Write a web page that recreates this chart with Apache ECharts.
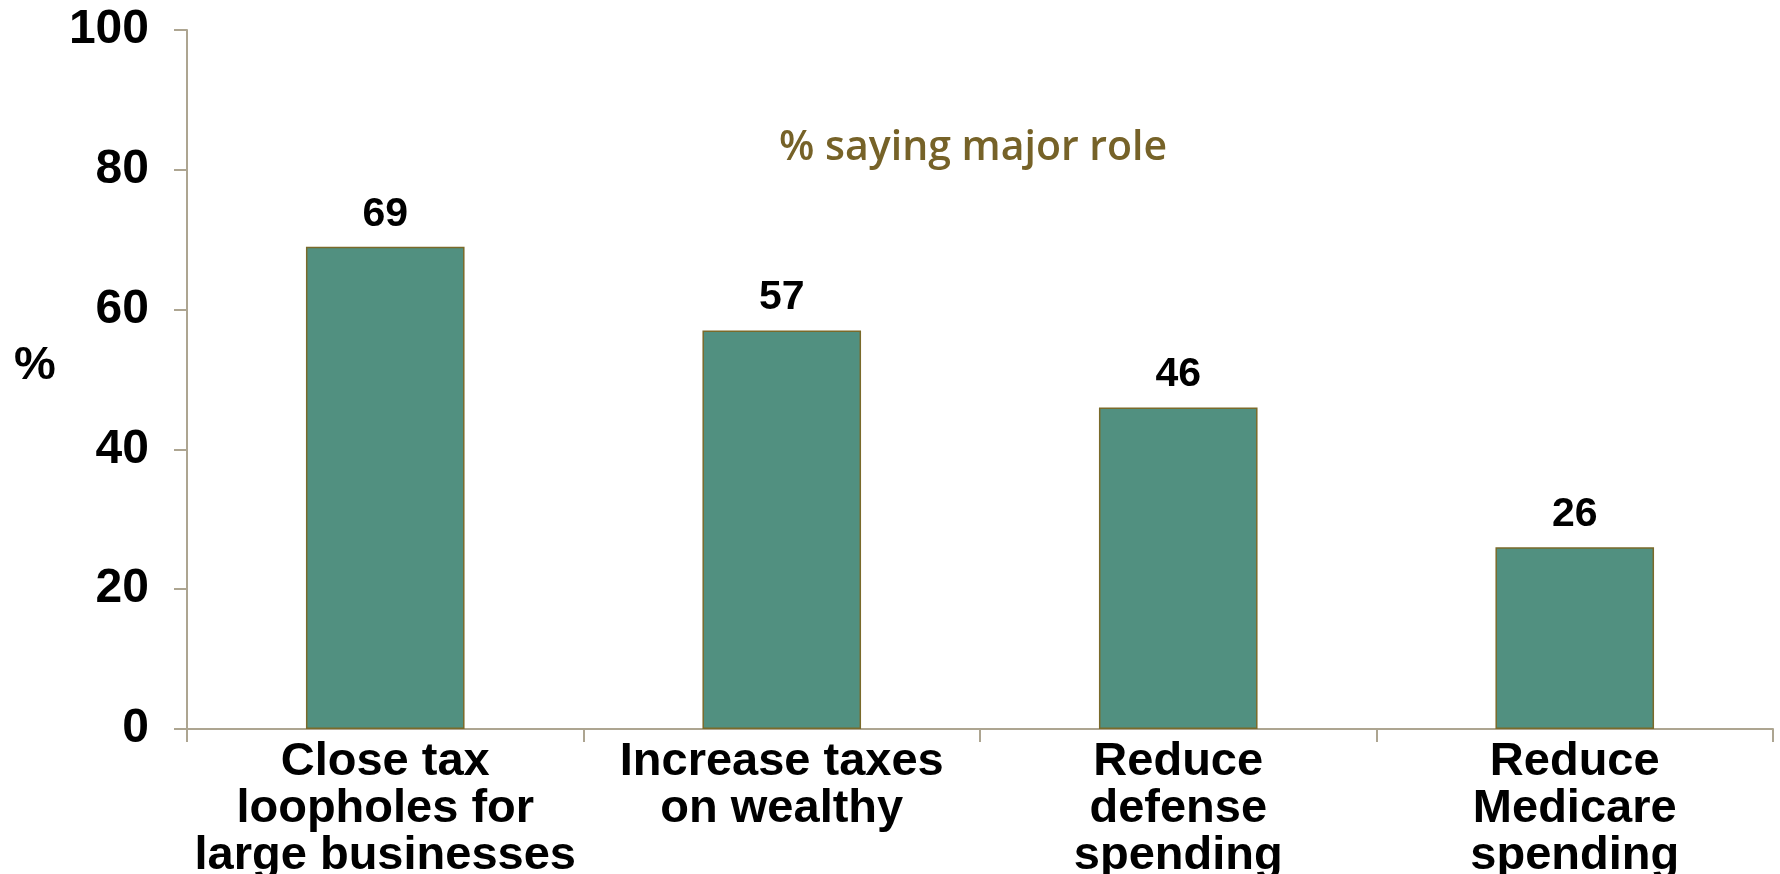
<!DOCTYPE html>
<html>
<head>
<meta charset="utf-8">
<script src="https://cdn.jsdelivr.net/npm/echarts@6/dist/echarts.min.js"></script>
<style>
html,body{margin:0;padding:0;background:#fff;}
#chart{width:1780px;height:874px;}
</style>
</head>
<body>
<div id="chart"></div>
<script>
const categories = ['Close tax\nloopholes for\nlarge businesses', 'Increase taxes\non wealthy', 'Reduce\ndefense\nspending', 'Reduce\nMedicare\nspending'];
const values = [69, 57, 46, 26];
const yTicks = [0, 20, 40, 60, 80, 100];
const titleText = '% saying major role';
const yName = '%';

const chart = echarts.init(document.getElementById('chart'));
const axisColor = '#ADA591';
chart.setOption({
  animation: false,
  grid: {left: 187, right: 7, top: 30, bottom: 145, outerBoundsMode: 'none', containLabel: false},
  xAxis: {
    type: 'category',
    data: categories,
    axisLine: {lineStyle: {color: axisColor, width: 2}},
    axisTick: {show: true, alignWithLabel: false, interval: 0, length: 13, lineStyle: {color: axisColor, width: 2}},
    axisLabel: {interval: 0, margin: 10, color: '#000', fontSize: 47, fontWeight: 'bold', fontFamily: 'Liberation Sans, Arial, sans-serif', lineHeight: 47}
  },
  yAxis: {
    type: 'value',
    min: yTicks[0], max: yTicks[yTicks.length - 1], interval: 20,
    splitLine: {show: false},
    axisLine: {show: true, lineStyle: {color: axisColor, width: 2}},
    axisTick: {show: true, length: 13, lineStyle: {color: axisColor, width: 2}},
    axisLabel: {margin: 38, color: '#000', fontSize: 48, fontWeight: 'bold', fontFamily: 'Liberation Sans, Arial, sans-serif'}
  },
  graphic: [
    {type: 'text', left: 14, top: 343, style: {text: yName, fontSize: 47, fontWeight: 'bold', fontFamily: 'Liberation Sans, Arial, sans-serif', fill: '#000'}},
    {type: 'text', x: 973, y: 148, style: {text: titleText, fontSize: 41, fontWeight: 600, fontFamily: 'Open Sans, Liberation Sans, Arial, sans-serif', fill: '#766228', align: 'center', verticalAlign: 'middle'}}
  ],
  series: [{
    type: 'bar',
    data: values,
    barWidth: '40%',
    itemStyle: {color: '#519080', borderColor: '#7A6A2A', borderWidth: 1.5},
    label: {show: true, position: 'top', distance: 12, color: '#000', fontSize: 41, fontWeight: 'bold', fontFamily: 'Liberation Sans, Arial, sans-serif'}
  }]
});
</script>
</body>
</html>
